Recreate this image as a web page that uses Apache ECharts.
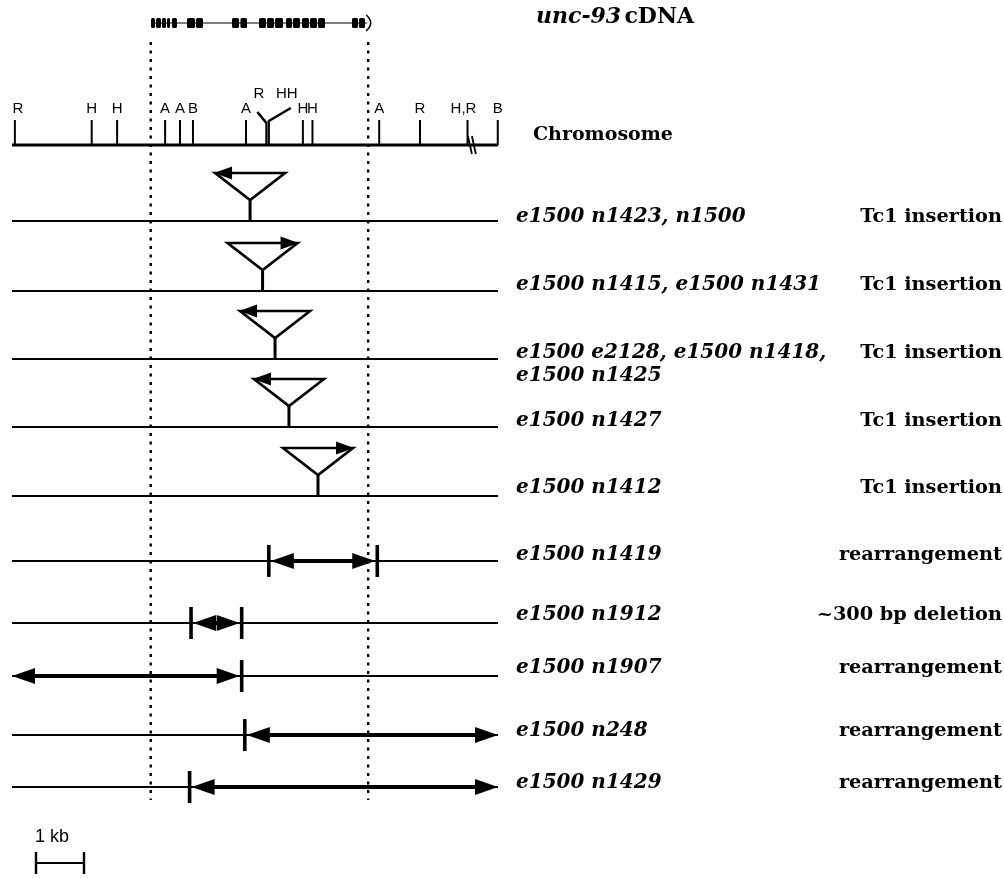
<!DOCTYPE html>
<html><head><meta charset="utf-8">
<script src="https://cdn.jsdelivr.net/npm/echarts@6/dist/echarts.min.js"></script>
<style>html,body{margin:0;padding:0;background:#fff}#c{width:1004px;height:878px}</style>
</head><body><div id="c"></div>
<script>
// ---------------- DATA (positions in kb from the left end of the mapped region) -------------
const siteLabels = ['R','H','H','A','A','B','A','R','HH','H','H','A','R','H,R','B'];
const sitePos    = [0.06,1.66,2.19,3.19,3.50,3.77,4.875,5.30,5.35,6.06,6.26,7.65,8.50,9.49,10.12];
const chromosomeEnd = 10.125;
const chromosomeBreak = 9.56;
const geneBounds = [2.89, 7.42];
const cdnaStart = 2.90;
const cdnaEnd = 7.40;
const exonStart = [2.896,3.0,3.125,3.229,3.333,3.646,3.833,4.583,4.76,5.146,5.3125,5.479,5.708,5.854,6.042,6.208,6.375,7.083,7.229];
const exonEnd   = [2.979,3.104,3.208,3.292,3.438,3.8125,3.979,4.729,4.896,5.292,5.458,5.646,5.833,6.0,6.1875,6.354,6.521,7.208,7.354];
const alleleLabels = ['e1500 n1423, n1500','e1500 n1415, e1500 n1431','e1500 e2128, e1500 n1418,\ne1500 n1425',
  'e1500 n1427','e1500 n1412','e1500 n1419','e1500 n1912','e1500 n1907','e1500 n248','e1500 n1429'];
const lesionTypes = ['Tc1 insertion','Tc1 insertion','Tc1 insertion','Tc1 insertion','Tc1 insertion',
  'rearrangement','~300 bp deletion','rearrangement','rearrangement','rearrangement'];
const tc1Pos    = [4.96, 5.22, 5.48, 5.77, 6.375];
const tc1Orient = [-1, 1, -1, -1, 1];
const lesionLeft   = [5.35, 3.73, 0.00, 4.85, 3.70];
const lesionRight  = [7.61, 4.785, 4.785, 10.125, 10.125];
const leftIsBreak  = [1, 1, 0, 1, 1];
const rightIsBreak = [1, 1, 1, 0, 0];
const scaleBarKb = 1;

// ---------------- LAYOUT ----------------
const CHROM_Y = 145, CDNA_Y = 23;
const ROW_Y   = [221, 291, 359, 427, 496, 561, 623, 676, 735, 787];
const LABEL_Y = [217, 285, 353, 421, 488, 555, 615, 668, 731, 783];
const DOT_TOP = 42, DOT_BOTTOM = 800;
const SCALE_X0 = 0.5, SCALE_Y = 863;
const FORK = {7: {bx: -9, by: 112, lx: -7.5, stemTop: 122}, 8: {bx: 22, by: 108, lx: 18, stemTop: 120}};
const SANS = '15px "Liberation Sans", Arial, sans-serif';
const SERIF = '"DejaVu Serif", serif';
const K = '#000';

const chart = echarts.init(document.getElementById('c'), null, {renderer: 'canvas'});

function ln(x1,y1,x2,y2,w,extra){return {type:'line',shape:{x1,y1,x2,y2},style:Object.assign({stroke:K,lineWidth:w},extra||{})};}
function poly(pts){return {type:'polygon',shape:{points:pts},style:{fill:K}};}

const series = [];

// restriction map
series.push({type:'custom', clip:false, silent:true,
  data: sitePos.map((p,i)=>[p,i]),
  renderItem(params, api){
    const i = api.value(1);
    const [x, yb] = api.coord([api.value(0), CHROM_Y]);
    const f = FORK[i];
    const ch = [];
    if (!f) {
      ch.push(ln(x, yb, x, yb-25, 2));
      ch.push({type:'text', style:{text:siteLabels[i], x:x + (siteLabels[i]==='H,R'?-4:(i===0?3:0)), y:yb-36, align:'center', verticalAlign:'middle', font:SANS, fill:K}});
    } else {
      ch.push(ln(x, yb, x, f.stemTop, 2.2));
      ch.push(ln(x, f.stemTop+1, x+f.bx, f.by, 2.6));
      ch.push({type:'text', style:{text:siteLabels[i], x:x+f.lx, y:yb-51, align:'center', verticalAlign:'middle', font:SANS, fill:K}});
    }
    return {type:'group', children:ch};
  }
});

// chromosome line + break
series.push({type:'custom', clip:false, silent:true,
  data:[[0, chromosomeEnd, chromosomeBreak]],
  renderItem(params, api){
    const [x0, y] = api.coord([api.value(0), CHROM_Y]);
    const [x1] = api.coord([api.value(1), CHROM_Y]);
    const [xb] = api.coord([api.value(2), CHROM_Y]);
    return {type:'group', children:[
      ln(x0, y, x1, y, 3.2),
      ln(xb-3, y-9, xb+1, y+9, 1.8),
      ln(xb+1, y-9, xb+5, y+9, 1.8)
    ]};
  }
});

// cDNA
series.push({type:'custom', clip:false, silent:true,
  data:[[cdnaStart, cdnaEnd]],
  renderItem(params, api){
    const [x0, y] = api.coord([api.value(0), CDNA_Y]);
    const [x1] = api.coord([api.value(1), CDNA_Y]);
    return {type:'group', children:[
      ln(x0, y, x1, y, 1.2),
      {type:'bezierCurve', shape:{x1:x1-1, y1:y-8, cpx1:x1+8, cpy1:y, x2:x1-1, y2:y+8}, style:{stroke:K, lineWidth:1.6, fill:null}}
    ]};
  }
});
series.push({type:'custom', clip:false, silent:true,
  data: exonStart.map((s,i)=>[s, exonEnd[i]]),
  renderItem(params, api){
    const [x0, y] = api.coord([api.value(0), CDNA_Y]);
    const [x1] = api.coord([api.value(1), CDNA_Y]);
    return {type:'rect', shape:{x:x0, y:y-5, width:Math.max(x1-x0,2), height:10, r:1.5}, style:{fill:K}};
  }
});

// gene boundary dotted lines
series.push({type:'custom', clip:false, silent:true,
  data: geneBounds.map(b=>[b]),
  renderItem(params, api){
    const [x, yt] = api.coord([api.value(0), DOT_TOP]);
    const [, yb] = api.coord([api.value(0), DOT_BOTTOM]);
    return ln(x, yt, x, yb, 2.4, {lineDash:[3,5.5]});
  }
});

// thin mutant lines
series.push({type:'custom', clip:false, silent:true,
  data: ROW_Y.map((y,i)=>[0, chromosomeEnd, i]),
  renderItem(params, api){
    const yv = ROW_Y[api.value(2)];
    const [x0, y] = api.coord([api.value(0), yv]);
    const [x1] = api.coord([api.value(1), yv]);
    return ln(x0, y, x1, y, 2);
  }
});

// Tc1 insertions
series.push({type:'custom', clip:false, silent:true,
  data: tc1Pos.map((p,i)=>[p, tc1Orient[i], i]),
  renderItem(params, api){
    const i = api.value(2), dir = api.value(1);
    const [x, y] = api.coord([api.value(0), ROW_Y[i]]);
    const top = y-48, apex = y-21, half = 35;
    const tip = dir < 0 ? x-half-1 : x+half+1;
    const base = tip - dir*18;
    return {type:'group', children:[
      {type:'polygon', shape:{points:[[x-half,top],[x+half,top],[x,apex]]}, style:{stroke:K, lineWidth:2.6, fill:null, lineJoin:'miter'}},
      ln(x, apex, x, y, 3),
      poly([[tip,top],[base,top-6.5],[base,top+6.5]])
    ]};
  }
});

// rearrangements / deletion
series.push({type:'custom', clip:false, silent:true,
  data: lesionLeft.map((l,i)=>[l, lesionRight[i], leftIsBreak[i], rightIsBreak[i], i]),
  renderItem(params, api){
    const i = api.value(4);
    const yv = ROW_Y[5+i];
    const [xl, y] = api.coord([api.value(0), yv]);
    const [xr] = api.coord([api.value(1), yv]);
    const lb = api.value(2), rb = api.value(3);
    const L = 23, H = 8;
    const tl = lb ? xl+2 : xl, tr = rb ? xr-2 : xr;
    const ch = [
      ln(tl+10, y, tr-10, y, 4.2),
      poly([[tl,y],[tl+L,y-H],[tl+L,y+H]]),
      poly([[tr,y],[tr-L,y-H],[tr-L,y+H]])
    ];
    if (lb) ch.push(ln(xl, y-16, xl, y+16, 3.6));
    if (rb) ch.push(ln(xr, y-16, xr, y+16, 3.6));
    return {type:'group', children:ch};
  }
});

// scale bar
series.push({type:'custom', clip:false, silent:true,
  data:[[SCALE_X0, SCALE_X0+scaleBarKb]],
  renderItem(params, api){
    const [x0, y] = api.coord([api.value(0), SCALE_Y]);
    const [x1] = api.coord([api.value(1), SCALE_Y]);
    return {type:'group', children:[
      ln(x0, y, x1, y, 1.8),
      ln(x0, y-11, x0, y+11, 2.4),
      ln(x1, y-11, x1, y+11, 2.4),
      {type:'text', style:{text:scaleBarKb+' kb', x:x0-1, y:y-26, align:'left', verticalAlign:'middle', font:'18px "Liberation Sans", Arial, sans-serif', fill:K}}
    ]};
  }
});

// text labels
const graphics = [];
graphics.push({type:'text', x:536, y:17, style:{
  text:'{i|unc-93} {b|cDNA}', verticalAlign:'middle', rich:{
    i:{fontFamily:SERIF, fontSize:22, fontWeight:'bold', fontStyle:'italic', fill:K},
    b:{fontFamily:SERIF, fontSize:22, fontWeight:'bold', fill:K}}}});
graphics.push({type:'text', x:533, y:135, style:{text:'Chromosome', font:'bold 19px '+SERIF, fill:K, verticalAlign:'middle'}});
alleleLabels.forEach((t,i)=>{
  graphics.push({type:'text', x:516, y:LABEL_Y[i]-11.5, style:{text:t, font:'italic bold 20px '+SERIF, fill:K, verticalAlign:'top', lineHeight:23}});
});
lesionTypes.forEach((t,i)=>{
  graphics.push({type:'text', x:1002, y:LABEL_Y[i], style:{text:t, font:'bold 19.3px '+SERIF, fill:K, align:'right', verticalAlign:'middle'}});
});

chart.setOption({
  animation:false,
  backgroundColor:'#fff',
  grid:{left:12, right:506, top:0, bottom:0},
  xAxis:{type:'value', min:0, max:chromosomeEnd, show:false},
  yAxis:{type:'value', min:0, max:878, inverse:true, show:false},
  series: series,
  graphic: graphics
});
</script></body></html>
